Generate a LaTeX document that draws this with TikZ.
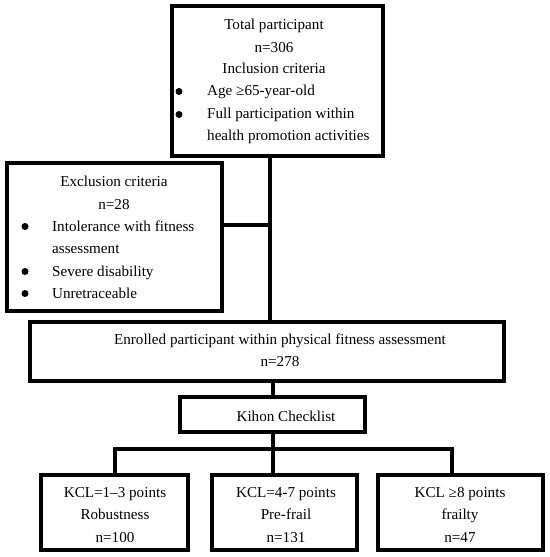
\documentclass[tikz,border=0pt]{standalone}
\usepackage{fontspec}
\setmainfont{Liberation Serif}
\begin{document}
\begin{tikzpicture}[x=1bp,y=-1bp,
  box/.style={draw,line width=3.8bp,inner sep=0pt},
  link/.style={line width=3.8bp},
  txt/.style={inner sep=0pt,anchor=base,font=\fontsize{15.2}{17}\selectfont},
  ltxt/.style={inner sep=0pt,anchor=base west,font=\fontsize{15.2}{17}\selectfont},
  dot/.style={circle,fill,inner sep=0pt,minimum size=7bp}]
\useasboundingbox (0,0) rectangle (550,557);
% boxes
\node[box,minimum width=211bp,minimum height=150bp] (top) at (277.5,81) {};
\node[box,minimum width=215bp,minimum height=148bp] (excl) at (114.5,237) {};
\node[box,minimum width=474bp,minimum height=59bp] (enr) at (267,351.5) {};
\node[box,minimum width=185bp,minimum height=35bp] (kih) at (272.5,414.5) {};
\node[box,minimum width=147bp,minimum height=75bp] (b1) at (114.5,512.5) {};
\node[box,minimum width=145bp,minimum height=75bp] (b2) at (284.5,512.5) {};
\node[box,minimum width=165bp,minimum height=75bp] (b3) at (460.5,512.5) {};
% connectors
\coordinate (j1) at (270,225);
\coordinate (j2) at (273,449);
\coordinate (bl) at (115,449);
\coordinate (br) at (452,449);
\draw[link] (top.south -| j1) -- (enr.north -| j1);
\draw[link] (excl.east |- j1) -- (j1);
\draw[link] (enr.south -| j2) -- (kih.north -| j2);
\draw[link] (kih.south -| j2) -- (b2.north -| j2);
\draw[link] (b1.north -| bl) -- (bl) -- (br) -- (b3.north -| br);
% top box text
\node[txt] (t1) at (274,30) {Total participant};
\node[txt] (t2) at (274,52.5) {n=306};
\node[txt] (t3) at (274,74) {Inclusion criteria};
\node[dot] (d1) at (179,91.5) {};
\node[ltxt] (t4) at (207,96) {Age ≥65-year-old};
\node[dot] (d2) at (179,114.5) {};
\node[ltxt] (t5) at (207,119) {Full participation within};
\node[ltxt] (t6) at (207,141) {health promotion activities};
% exclusion text
\node[txt] (e1) at (114,187) {Exclusion criteria};
\node[txt] (e2) at (114,209.5) {n=28};
\node[dot] (d3) at (25,226.5) {};
\node[ltxt] (e3) at (52,231) {Intolerance with fitness};
\node[ltxt] (e4) at (52,253.5) {assessment};
\node[dot] (d4) at (25,271.5) {};
\node[ltxt] (e5) at (52,276) {Severe disability};
\node[dot] (d5) at (25,293.5) {};
\node[ltxt] (e6) at (52,298) {Unretraceable};
% enrolled
\node[txt] (n1) at (280,344) {Enrolled participant within physical fitness assessment};
\node[txt] (n2) at (280,366) {n=278};
% kihon
\node[txt] (k1) at (286,421) {Kihon Checklist};
% bottom
\node[txt] (a1) at (115,497) {KCL=1–3 points};
\node[txt] (a2) at (115,519.5) {Robustness};
\node[txt] (a3) at (115,542) {n=100};
\node[txt] (c1) at (286,497) {KCL=4-7 points};
\node[txt] (c2) at (286,519.5) {Pre-frail};
\node[txt] (c3) at (286,542) {n=131};
\node[txt] (f1) at (460,497) {KCL ≥8 points};
\node[txt] (f2) at (460,519.5) {frailty};
\node[txt] (f3) at (460,542) {n=47};
\end{tikzpicture}
\end{document}
